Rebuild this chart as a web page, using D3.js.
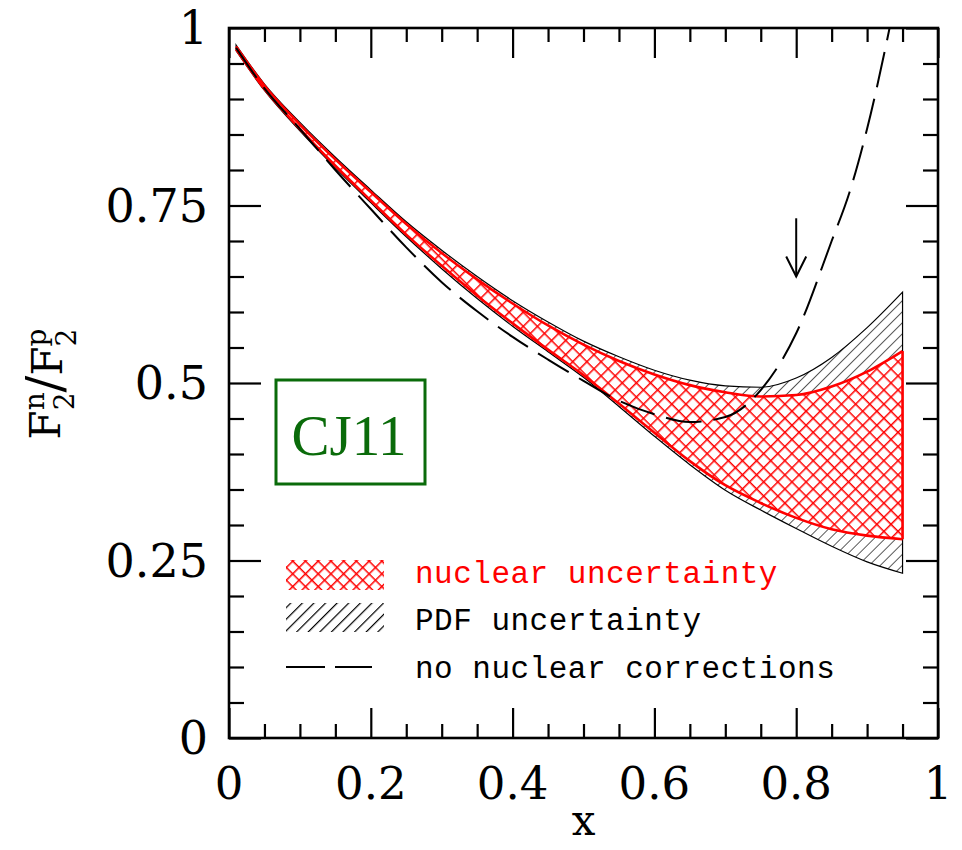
<!DOCTYPE html>
<html><head><meta charset="utf-8">
<script src="https://cdn.jsdelivr.net/npm/d3@7"></script>
<style>body{margin:0;background:#fff}</style>
</head><body>
<svg id="chart" width="962" height="850"></svg>
<script>
// ---- data ----
const xGrid      = [0.01,0.05,0.10,0.15,0.20,0.25,0.30,0.35,0.40,0.45,0.50,0.55,0.60,0.65,0.70,0.75,0.80,0.85,0.90,0.95];
const pdfUpper   = [0.976,0.921,0.867,0.818,0.772,0.727,0.687,0.650,0.616,0.586,0.559,0.537,0.518,0.504,0.496,0.494,0.507,0.536,0.578,0.628];
const pdfLower   = [0.968,0.912,0.855,0.803,0.754,0.706,0.661,0.619,0.580,0.544,0.508,0.467,0.425,0.385,0.349,0.321,0.295,0.270,0.248,0.232];
const nucUpper   = [0.974,0.919,0.864,0.815,0.769,0.724,0.683,0.646,0.612,0.581,0.554,0.531,0.512,0.497,0.487,0.481,0.483,0.495,0.516,0.545];
const nucLower   = [0.970,0.914,0.858,0.806,0.757,0.709,0.665,0.623,0.584,0.547,0.511,0.471,0.430,0.390,0.356,0.331,0.310,0.294,0.285,0.280];
const noNucX     = [0.01,0.05,0.10,0.15,0.20,0.25,0.30,0.35,0.40,0.45,0.50,0.55,0.60,0.65,0.70,0.75,0.80,0.85,0.875,0.90,0.94];
const noNucY     = [0.972,0.915,0.858,0.800,0.745,0.691,0.642,0.601,0.565,0.533,0.503,0.475,0.456,0.445,0.452,0.490,0.570,0.700,0.768,0.858,1.04];
const xMajor     = [0,0.2,0.4,0.6,0.8,1];
const xMajorLbl  = ["0","0.2","0.4","0.6","0.8","1"];
const yMajor     = [0,0.25,0.5,0.75,1];
const yMajorLbl  = ["0","0.25","0.5","0.75","1"];
const arrowX = 0.8, arrowFrom = 0.732, arrowTo = 0.650;
const legendLabels = ["nuclear uncertainty","PDF uncertainty","no nuclear corrections"];

// ---- layout ----
const svg = d3.select("#chart");
const L = 229, R = 938, T = 28, B = 738;
const x = d3.scaleLinear().domain([0,1]).range([L,R]);
const y = d3.scaleLinear().domain([0,1]).range([B,T]);

const defs = svg.append("defs");
defs.append("clipPath").attr("id","clip").append("rect")
  .attr("x",L).attr("y",T).attr("width",R-L).attr("height",B-T);

// hatch patterns
const ph = defs.append("pattern").attr("id","hatch").attr("patternUnits","userSpaceOnUse")
  .attr("width",7.8).attr("height",7.8).attr("patternTransform","rotate(45)");
ph.append("rect").attr("width",7.8).attr("height",7.8).attr("fill","#fff");
ph.append("line").attr("x1",0).attr("y1",0).attr("x2",0).attr("y2",7.8).attr("stroke","#000").attr("stroke-width",1.3);

const phL = defs.append("pattern").attr("id","hatchL").attr("patternUnits","userSpaceOnUse")
  .attr("width",8.2).attr("height",8.2).attr("patternTransform","rotate(45)");
phL.append("line").attr("x1",0).attr("y1",0).attr("x2",0).attr("y2",8.2).attr("stroke","#000").attr("stroke-width",2.4);

const pc = defs.append("pattern").attr("id","cross").attr("patternUnits","userSpaceOnUse")
  .attr("width",10).attr("height",10).attr("patternTransform","rotate(45)");
pc.append("rect").attr("width",10).attr("height",10).attr("fill","#fff");
pc.append("line").attr("x1",0).attr("y1",0).attr("x2",0).attr("y2",10).attr("stroke","#ff0000").attr("stroke-width",3);
pc.append("line").attr("x1",0).attr("y1",0).attr("x2",10).attr("y2",0).attr("stroke","#ff0000").attr("stroke-width",3);

const pcL = defs.append("pattern").attr("id","crossL").attr("patternUnits","userSpaceOnUse")
  .attr("width",9).attr("height",9).attr("patternTransform","rotate(45)");
pcL.append("line").attr("x1",0).attr("y1",0).attr("x2",0).attr("y2",9).attr("stroke","#ff0000").attr("stroke-width",3);
pcL.append("line").attr("x1",0).attr("y1",0).attr("x2",9).attr("y2",0).attr("stroke","#ff0000").attr("stroke-width",3);

const curve = d3.curveMonotoneX;
const pdfData = xGrid.map((v,i)=>({x:v,lo:pdfLower[i],hi:pdfUpper[i]}));
const nucData = xGrid.map((v,i)=>({x:v,lo:nucLower[i],hi:nucUpper[i]}));
const area = d3.area().x(d=>x(d.x)).y0(d=>y(d.lo)).y1(d=>y(d.hi)).curve(curve);
const lineHi = d3.line().x(d=>x(d.x)).y(d=>y(d.hi)).curve(curve);
const lineLo = d3.line().x(d=>x(d.x)).y(d=>y(d.lo)).curve(curve);

const g = svg.append("g").attr("clip-path","url(#clip)");
// PDF band
g.append("path").datum(pdfData).attr("d",area).attr("fill","url(#hatch)").attr("stroke","#000").attr("stroke-width",1.2);
// nuclear band
g.append("path").datum(nucData).attr("d",area).attr("fill","url(#cross)").attr("stroke","none");
g.append("path").datum(nucData).attr("d",lineHi).attr("fill","none").attr("stroke","#ff0000").attr("stroke-width",2.6);
g.append("path").datum(nucData).attr("d",lineLo).attr("fill","none").attr("stroke","#ff0000").attr("stroke-width",2.6);
const last = nucData[nucData.length-1];
g.append("line").attr("x1",x(last.x)).attr("x2",x(last.x)).attr("y1",y(last.lo)).attr("y2",y(last.hi))
  .attr("stroke","#ff0000").attr("stroke-width",2.6);

// no nuclear corrections dashed
const nn = noNucX.map((v,i)=>({x:v,y:noNucY[i]}));
g.append("path").datum(nn).attr("d",d3.line().x(d=>x(d.x)).y(d=>y(d.y)).curve(d3.curveMonotoneX))
  .attr("fill","none").attr("stroke","#000").attr("stroke-width",2).attr("stroke-dasharray","36,12");

// arrow
svg.append("line").attr("x1",x(arrowX)).attr("x2",x(arrowX)).attr("y1",y(arrowFrom)).attr("y2",y(arrowTo))
  .attr("stroke","#000").attr("stroke-width",2);
svg.append("path").attr("d",`M${x(arrowX)-10},${y(arrowTo)-20}L${x(arrowX)},${y(arrowTo)}L${x(arrowX)+10},${y(arrowTo)-20}`)
  .attr("fill","none").attr("stroke","#000").attr("stroke-width",2);

// axes & ticks
const xMinor = d3.range(0,1.0001,0.05).filter(v=>Math.abs(v*5-Math.round(v*5))>1e-6);
const yMinor = d3.range(0,1.0001,0.05).filter(v=>Math.abs(v*4-Math.round(v*4))>1e-6);
function tickAxis(gen, ticks, size, tr){
  const a = svg.append("g").attr("transform",tr)
    .call(gen.tickValues(ticks).tickSizeInner(size).tickSizeOuter(0).tickFormat(""));
  a.select(".domain").remove();
  a.selectAll("line").attr("stroke","#000").attr("stroke-width",2.2);
  return a;
}
tickAxis(d3.axisBottom(x), xMajor, -30, `translate(0,${B})`);
tickAxis(d3.axisBottom(x), xMinor, -14, `translate(0,${B})`);
tickAxis(d3.axisTop(x), xMajor, -30, `translate(0,${T})`);
tickAxis(d3.axisTop(x), xMinor, -14, `translate(0,${T})`);
tickAxis(d3.axisLeft(y), yMajor, -32, `translate(${L},0)`);
tickAxis(d3.axisLeft(y), yMinor, -15, `translate(${L},0)`);
tickAxis(d3.axisRight(y), yMajor, -32, `translate(${R},0)`);
tickAxis(d3.axisRight(y), yMinor, -15, `translate(${R},0)`);

svg.append("rect").attr("x",L).attr("y",T).attr("width",R-L).attr("height",B-T)
  .attr("fill","none").attr("stroke","#000").attr("stroke-width",2.6);

const tickFont = "'DejaVu Serif', serif";
svg.append("g").selectAll("text").data(xMajor).join("text")
  .attr("x",d=>x(d)).attr("y",799).attr("text-anchor","middle")
  .attr("font-family",tickFont).attr("font-size",45).text((d,i)=>xMajorLbl[i]);
svg.append("g").selectAll("text").data(yMajor).join("text")
  .attr("x",208).attr("y",d=>y(d)+16).attr("text-anchor","end")
  .attr("font-family",tickFont).attr("font-size",46).text((d,i)=>yMajorLbl[i]);

// axis titles
svg.append("text").attr("x",x(0.5)).attr("y",835).attr("text-anchor","middle")
  .attr("font-family",tickFont).attr("font-size",42).text("x");

const yt = svg.append("text").attr("transform","translate(60,384) rotate(-90)")
  .attr("text-anchor","middle").attr("font-family",tickFont).attr("font-size",42);
yt.append("tspan").text("F");
yt.append("tspan").attr("font-size",28).attr("dy",-16).text("n");
yt.append("tspan").attr("font-size",28).attr("dx",-18).attr("dy",30).text("2");
yt.append("tspan").attr("font-size",50).attr("dy",-12).text("/");
yt.append("tspan").text("F");
yt.append("tspan").attr("font-size",28).attr("dy",-16).text("p");
yt.append("tspan").attr("font-size",28).attr("dx",-18).attr("dy",30).text("2");

// CJ11 box
svg.append("rect").attr("x",276).attr("y",380).attr("width",149).attr("height",104)
  .attr("fill","none").attr("stroke","#0a6b0a").attr("stroke-width",3);
svg.append("text").attr("x",349).attr("y",455).attr("text-anchor","middle")
  .attr("font-family","'Liberation Serif', serif").attr("font-size",57).attr("fill","#0a6b0a").text("CJ11");

// legend
const legFont = "'Liberation Mono', monospace";
svg.append("rect").attr("x",286).attr("y",560).attr("width",98).attr("height",30).attr("fill","url(#crossL)");
svg.append("rect").attr("x",286).attr("y",603).attr("width",98).attr("height",29).attr("fill","url(#hatchL)");
svg.append("line").attr("x1",286).attr("x2",372).attr("y1",667).attr("y2",667)
  .attr("stroke","#000").attr("stroke-width",2).attr("stroke-dasharray","39,10");
const legY = [583,630,678];
const legCol = ["#ff0000","#000","#000"];
svg.append("g").selectAll("text").data(legendLabels).join("text")
  .attr("x",415).attr("y",(d,i)=>legY[i]).attr("fill",(d,i)=>legCol[i])
  .attr("font-family",legFont).attr("font-size",31).attr("letter-spacing",0.5).text(d=>d);
</script>
</body></html>
